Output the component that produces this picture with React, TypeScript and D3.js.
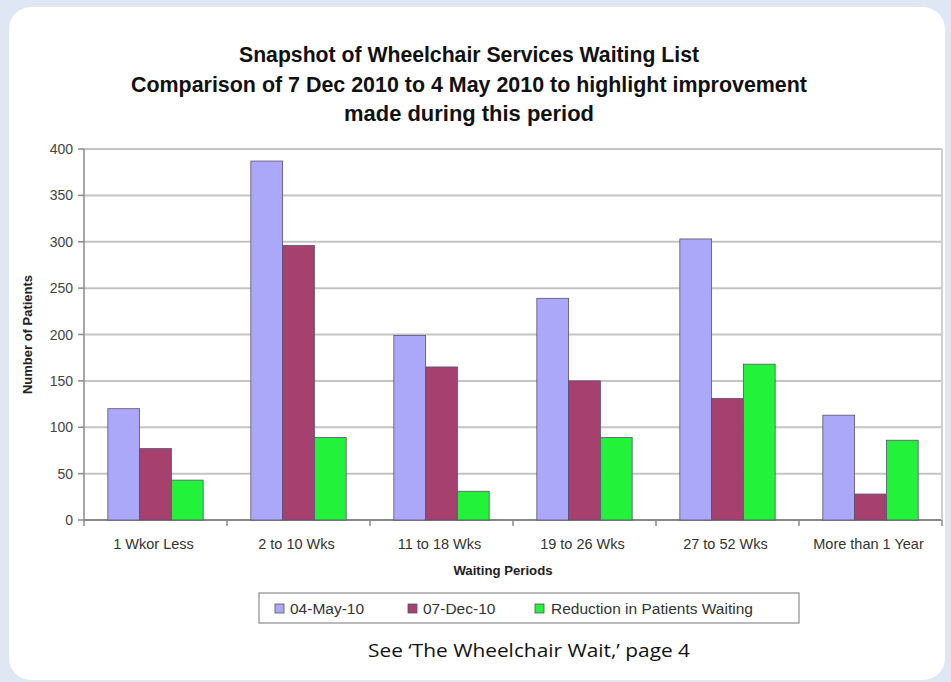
import React from "react";
import * as d3 from "d3";

const categories = ["1 Wkor Less", "2 to 10 Wks", "11 to 18 Wks", "19 to 26 Wks", "27 to 52 Wks", "More than 1 Year"];
const seriesNames = ["04-May-10", "07-Dec-10", "Reduction in Patients Waiting"];
const may10 = [120, 387, 199, 239, 303, 113];
const dec10 = [77, 296, 165, 150, 131, 28];
const reduction = [43, 89, 31, 89, 168, 86];
const yTicks = [0, 50, 100, 150, 200, 250, 300, 350, 400];
const titleLines = [
  "Snapshot of Wheelchair Services Waiting List",
  "Comparison of 7 Dec 2010 to 4 May 2010 to highlight improvement",
  "made during this period",
];
const caption = "See \u2018The Wheelchair Wait,\u2019 page 4";

const colors = ["#aba8f9", "#a6406f", "#22f23a"];

export default function App() {
  const W = 951, H = 682;
  const left = 84, right = 942, top = 149, bottom = 520;
  const x = d3.scaleBand<string>().domain(categories).range([left, right]);
  const bw = x.bandwidth() / 4.5;
  const y = d3.scaleLinear().domain([0, 400]).range([bottom, top]);
  const series = [may10, dec10, reduction];
  const titleFont = "'Liberation Sans', Arial, sans-serif";
  const chartFont = "'Liberation Sans', Arial, sans-serif";
  const titleWidths = [460, 676, 250];
  const legendItems = [
    { sx: 275, tx: 290 },
    { sx: 408, tx: 423 },
    { sx: 535, tx: 551 },
  ];
  return (
    <svg width={W} height={H} style={{ position: "absolute", left: 0, top: 0 }}>
      <rect x={0} y={0} width={W} height={H} fill="#dfe7f4" />
      <rect x={9} y={7} width={936} height={673} rx={22} ry={22} fill="#ffffff" />
      {titleLines.map((t, i) => (
        <text
          key={i}
          x={469}
          y={62 + i * 29.5}
          textAnchor="middle"
          fontFamily={titleFont}
          fontWeight="bold"
          fontSize={21.5}
          fill="#111"
          textLength={titleWidths[i]}
          lengthAdjust="spacingAndGlyphs"
        >
          {t}
        </text>
      ))}
      {yTicks.map((t) => (
        <line key={t} x1={left} x2={right} y1={y(t)} y2={y(t)} stroke={t === 0 ? "#888" : "#c4c4c4"} strokeWidth={2} />
      ))}
      <line x1={right} x2={right} y1={top} y2={bottom} stroke="#cfcfcf" strokeWidth={2} />
      <line x1={left} x2={left} y1={top} y2={bottom} stroke="#8a8a8a" strokeWidth={1.5} />
      {yTicks.map((t) => (
        <g key={"yt" + t}>
          <line x1={left - 6} x2={left} y1={y(t)} y2={y(t)} stroke="#8a8a8a" strokeWidth={1.5} />
          <text x={left - 11} y={y(t)} dy="0.36em" textAnchor="end" fontFamily={chartFont} fontSize={14} fill="#444">
            {t}
          </text>
        </g>
      ))}
      {categories.map((c, i) => (
        <line key={"xt" + i} x1={x(c) as number} x2={x(c) as number} y1={bottom} y2={bottom + 6} stroke="#8a8a8a" strokeWidth={1.5} />
      ))}
      <line x1={right} x2={right} y1={bottom} y2={bottom + 6} stroke="#8a8a8a" strokeWidth={1.5} />
      {series.map((vals, si) =>
        vals.map((v, ci) => (
          <rect
            key={si + "-" + ci}
            x={(x(categories[ci]) as number) + bw * (0.75 + si)}
            y={y(v)}
            width={bw}
            height={bottom - y(v)}
            fill={colors[si]}
            stroke="#5a4f70"
            strokeWidth={0.8}
          />
        ))
      )}
      {categories.map((c) => (
        <text key={"xl" + c} x={(x(c) as number) + x.bandwidth() / 2 - 2} y={548.5} textAnchor="middle" fontFamily={chartFont} fontSize={14.5} fill="#333">
          {c}
        </text>
      ))}
      <text x={503} y={575} textAnchor="middle" fontFamily={chartFont} fontWeight="bold" fontSize={13.2} fill="#222">
        Waiting Periods
      </text>
      <text transform={`translate(32,${(top + bottom) / 2}) rotate(-90)`} textAnchor="middle" fontFamily={chartFont} fontWeight="bold" fontSize={13} fill="#222">
        Number of Patients
      </text>
      <rect x={259} y={593} width={540} height={30} fill="#fff" stroke="#8c8c8c" strokeWidth={1.2} />
      {seriesNames.map((n, i) => (
        <g key={n}>
          <rect x={legendItems[i].sx} y={604} width={9} height={9} fill={colors[i]} stroke="#555" strokeWidth={0.8} />
          <text x={legendItems[i].tx} y={614} fontFamily={chartFont} fontSize={15.5} fill="#333">
            {n}
          </text>
        </g>
      ))}
      <text x={529} y={657} textAnchor="middle" fontFamily="'Open Sans', 'Noto Sans', sans-serif" fontSize={19} fill="#111" textLength={322} lengthAdjust="spacingAndGlyphs">
        {caption}
      </text>
    </svg>
  );
}
